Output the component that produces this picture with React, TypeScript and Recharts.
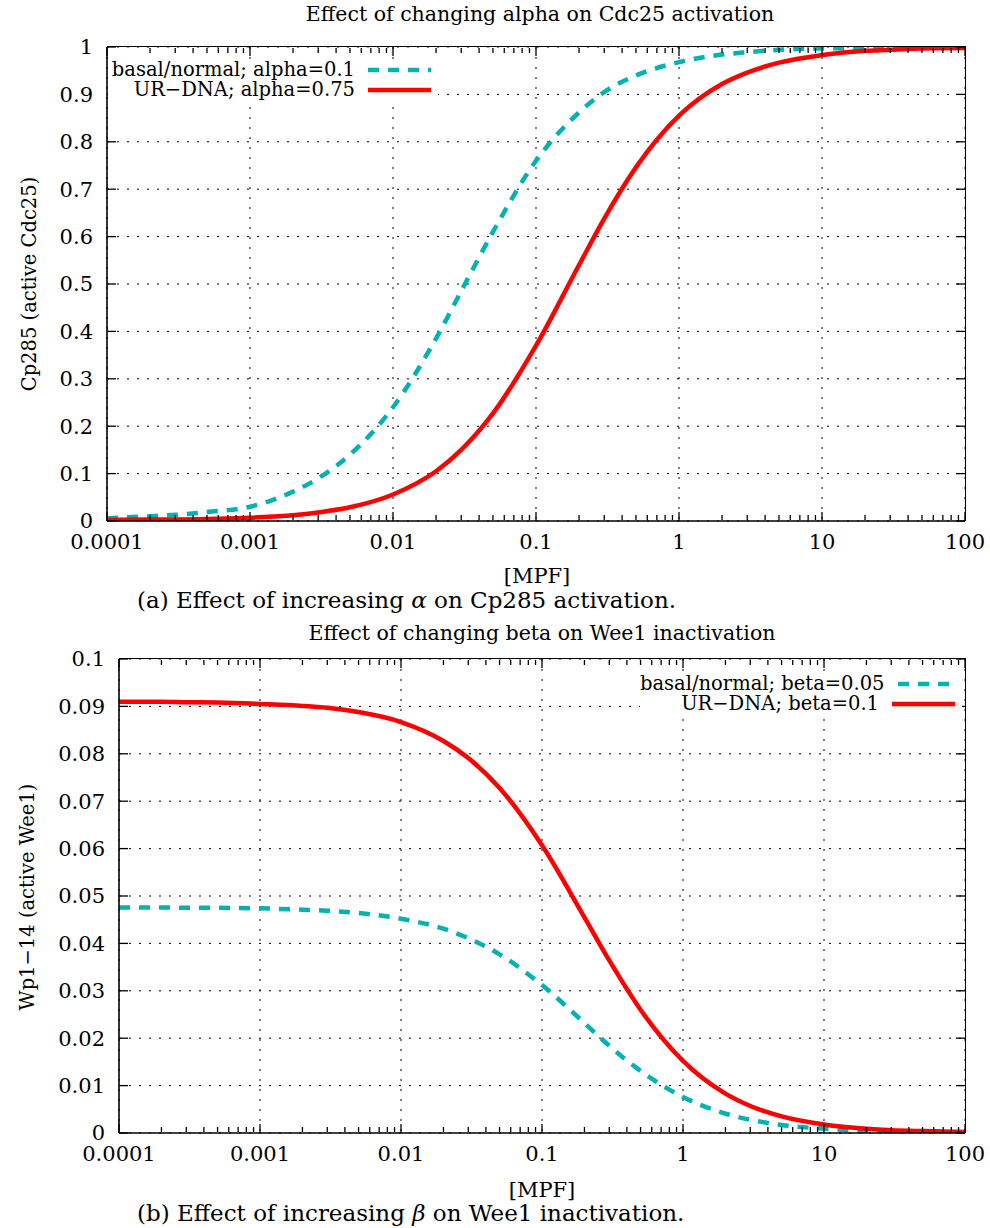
import React from "react";
import { CartesianGrid, Line, LineChart, XAxis, YAxis } from "recharts";

// MPF sample points (log axis)
const mpf = [1e-4, 2e-4, 3e-4, 5e-4, 1e-3, 2e-3, 3e-3, 5e-3, 1e-2, 2e-2, 3e-2, 5e-2, 0.1, 0.2, 0.3, 0.5, 1, 2, 3, 5, 10, 20, 30, 50, 100];

// (a) Cp285, active Cdc25
const cdcBasal = [0.006, 0.01, 0.013, 0.019, 0.03, 0.062, 0.09, 0.14, 0.24, 0.385, 0.485, 0.61, 0.76, 0.862, 0.905, 0.94, 0.968, 0.984, 0.989, 0.994, 0.997, 0.998, 0.999, 0.999, 1.0];
const cdcUrDna = [0.002, 0.003, 0.003, 0.004, 0.007, 0.012, 0.018, 0.029, 0.056, 0.105, 0.15, 0.227, 0.37, 0.54, 0.638, 0.746, 0.855, 0.922, 0.946, 0.967, 0.983, 0.992, 0.994, 0.997, 0.998];

// (b) Wp1-14, active Wee1
const weeBasal = [0.0476, 0.0476, 0.0475, 0.0475, 0.0474, 0.0471, 0.0469, 0.0464, 0.0452, 0.0431, 0.0411, 0.0377, 0.0312, 0.0232, 0.0184, 0.0131, 0.0076, 0.0041, 0.0028, 0.0017, 0.0009, 0.00045, 0.0003, 0.00018, 0.00009];
const weeUrDna = [0.091, 0.091, 0.0909, 0.0908, 0.0905, 0.0901, 0.0897, 0.0888, 0.0867, 0.0827, 0.0791, 0.0728, 0.0607, 0.0455, 0.0364, 0.026, 0.0152, 0.0083, 0.0057, 0.0035, 0.0018, 0.0009, 0.0006, 0.0004, 0.0002];

const xTicks = [1e-4, 1e-3, 1e-2, 1e-1, 1, 10, 100];
const xTickLabels = ["0.0001", "0.001", "0.01", "0.1", "1", "10", "100"];
const minorSteps = [2, 3, 4, 5, 6, 7, 8, 9];
const xMinorTicks = xTicks.slice(0, -1).flatMap((d) => minorSteps.map((m) => d * m));

const yTicksA = [0, 0.1, 0.2, 0.3, 0.4, 0.5, 0.6, 0.7, 0.8, 0.9, 1];
const yTicksB = [0, 0.01, 0.02, 0.03, 0.04, 0.05, 0.06, 0.07, 0.08, 0.09, 0.1];

const CYAN = "#00b2b2";
const RED = "#ff0000";
const SERIF = "'DejaVu Serif', serif";

const rowsA = mpf.map((x, i) => ({ mpf: x, basal: cdcBasal[i], ur: cdcUrDna[i] }));
const rowsB = mpf.map((x, i) => ({ mpf: x, basal: weeBasal[i], ur: weeUrDna[i] }));

type LegendItem = { label: string; color: string; dash?: string };

const noLabel = () => <g />;

function Panel({
  top,
  plotLeft,
  plotTop,
  yTicks,
  rows,
  basalName,
  urName,
}: {
  top: number;
  plotLeft: number;
  plotTop: number;
  yTicks: number[];
  rows: { mpf: number; basal: number; ur: number }[];
  basalName: string;
  urName: string;
}) {
  const height = 560;
  const plotH = 474;
  const yMax = yTicks[yTicks.length - 1];
  const tickStroke = { stroke: "#000", strokeWidth: 1.3 };
  const border = { stroke: "#000", strokeWidth: 1.6 };
  const xCommon = {
    dataKey: "mpf",
    type: "number" as const,
    scale: "log" as const,
    domain: [1e-4, 100],
    allowDataOverflow: true,
    interval: 0 as const,
  };
  const yCommon = { type: "number" as const, domain: [0, yMax], allowDataOverflow: true, interval: 0 as const, ticks: yTicks };
  // inward tick marks: mirrored axes of 1px so they sit on the frame
  const markX = { mirror: true, height: 1, tick: noLabel, tickLine: tickStroke, axisLine: false };
  const markY = { mirror: true, width: 1, tick: noLabel, tickLine: tickStroke, axisLine: false };
  return (
    <div style={{ position: "absolute", left: 0, top, width: 990, height }}>
      <LineChart
        width={990}
        height={height}
        data={rows}
        margin={{ top: plotTop, left: plotLeft - 60, right: 25, bottom: height - plotTop - plotH - 30 }}
      >
        <CartesianGrid xAxisId="x" yAxisId="y" stroke="#000" strokeDasharray="2 8" strokeWidth={1} />
        <XAxis
          {...xCommon}
          xAxisId="x"
          ticks={xTicks}
          tickFormatter={(v: number) => xTickLabels[xTicks.indexOf(v)] ?? String(v)}
          height={30}
          tickLine={false}
          tickSize={0}
          tickMargin={13}
          axisLine={border}
          tick={{ fontSize: 21, fill: "#000", fontFamily: SERIF }}
        />
        <XAxis {...xCommon} {...markX} xAxisId="xb" ticks={xTicks} tickSize={9} />
        <XAxis {...xCommon} {...markX} xAxisId="xbm" ticks={xMinorTicks} tickSize={5} />
        <XAxis {...xCommon} {...markX} xAxisId="xt" orientation="top" ticks={xTicks} tickSize={9} />
        <XAxis {...xCommon} {...markX} xAxisId="xtm" orientation="top" ticks={xMinorTicks} tickSize={5} />
        <YAxis
          {...yCommon}
          yAxisId="y"
          width={60}
          tickLine={false}
          tickSize={0}
          tickMargin={14}
          axisLine={border}
          tickFormatter={(v: number) => String(v)}
          tick={{ fontSize: 21, fill: "#000", fontFamily: SERIF }}
        />
        <YAxis {...yCommon} {...markY} yAxisId="yl" tickSize={9} />
        <YAxis {...yCommon} {...markY} yAxisId="yr" orientation="right" tickSize={9} />
        <Line
          xAxisId="x"
          yAxisId="y"
          type="monotone"
          dataKey="basal"
          name={basalName}
          stroke={CYAN}
          strokeWidth={4.5}
          strokeDasharray="11 9"
          dot={false}
          isAnimationActive={false}
        />
        <Line
          xAxisId="x"
          yAxisId="y"
          type="monotone"
          dataKey="ur"
          name={urName}
          stroke={RED}
          strokeWidth={4.5}
          dot={false}
          isAnimationActive={false}
        />
      </LineChart>
      {/* top and right frame */}
      <div style={{ position: "absolute", left: plotLeft, top: plotTop - 1, width: 965 - plotLeft, height: plotH, borderTop: "1.6px solid #000", borderRight: "1.6px solid #000", pointerEvents: "none" }} />
    </div>
  );
}

function LegendBox({ items, left, top, width }: { items: LegendItem[]; left: number; top: number; width: number }) {
  return (
    <div style={{ position: "absolute", left, top, width, background: "#fff", fontFamily: SERIF, fontSize: 19.5, padding: "1px 0" }}>
      {items.map((it) => (
        <div key={it.label} style={{ display: "flex", alignItems: "center", justifyContent: "flex-end", height: 20, lineHeight: "20px", whiteSpace: "nowrap" }}>
          <span>{it.label}</span>
          <svg width={63} height={10} style={{ marginLeft: 13, marginRight: 7 }}>
            <line x1={0} x2={63} y1={5} y2={5} stroke={it.color} strokeWidth={4.5} strokeDasharray={it.dash} />
          </svg>
        </div>
      ))}
    </div>
  );
}

function Text({ x, y, size, children, anchor = "center", rotate = false }: any) {
  const tx = anchor === "center" ? "-50%" : "0";
  return (
    <div
      style={{
        position: "absolute",
        left: x,
        top: y,
        transform: `translate(${tx}, -50%)${rotate ? " rotate(-90deg)" : ""}`,
        fontFamily: SERIF,
        fontSize: size,
        whiteSpace: "nowrap",
        lineHeight: 1.1,
        color: "#000",
      }}
    >
      {children}
    </div>
  );
}

export default function App() {
  return (
    <div style={{ position: "absolute", left: 0, top: 0, width: 990, height: 1228, background: "#fff", overflow: "hidden" }}>
      <Text x={540} y={14} size={20.5}>Effect of changing alpha on Cdc25 activation</Text>
      <Panel top={0} plotLeft={107} plotTop={47} yTicks={yTicksA} rows={rowsA} basalName="basal/normal; alpha=0.1" urName="UR−DNA; alpha=0.75" />
      <LegendBox
        left={108}
        top={59}
        width={330}
        items={[
          { label: "basal/normal; alpha=0.1", color: CYAN, dash: "11 9" },
          { label: "UR−DNA; alpha=0.75", color: RED },
        ]}
      />
      <Text x={30} y={284} size={19.5} rotate>Cp285 (active Cdc25)</Text>
      <Text x={537} y={577} size={21}>[MPF]</Text>
      <div style={{ position: "absolute", left: 0, top: 589, width: 990, height: 26, background: "#fff" }} />
      <Text x={137} y={601} size={23} anchor="left">(a) Effect of increasing <i>α</i> on Cp285 activation.</Text>

      <Text x={542} y={633} size={20.5}>Effect of changing beta on Wee1 inactivation</Text>
      <Panel top={620} plotLeft={119} plotTop={39} yTicks={yTicksB} rows={rowsB} basalName="basal/normal; beta=0.05" urName="UR−DNA; beta=0.1" />
      <LegendBox
        left={640}
        top={673}
        width={322}
        items={[
          { label: "basal/normal; beta=0.05", color: CYAN, dash: "11 9" },
          { label: "UR−DNA; beta=0.1", color: RED },
        ]}
      />
      <Text x={28} y={897} size={19.5} rotate>Wp1−14 (active Wee1)</Text>
      <Text x={542} y={1191} size={21}>[MPF]</Text>
      <div style={{ position: "absolute", left: 0, top: 1203, width: 990, height: 25, background: "#fff" }} />
      <Text x={137} y={1214} size={23} anchor="left">(b) Effect of increasing <i>β</i> on Wee1 inactivation.</Text>
    </div>
  );
}
